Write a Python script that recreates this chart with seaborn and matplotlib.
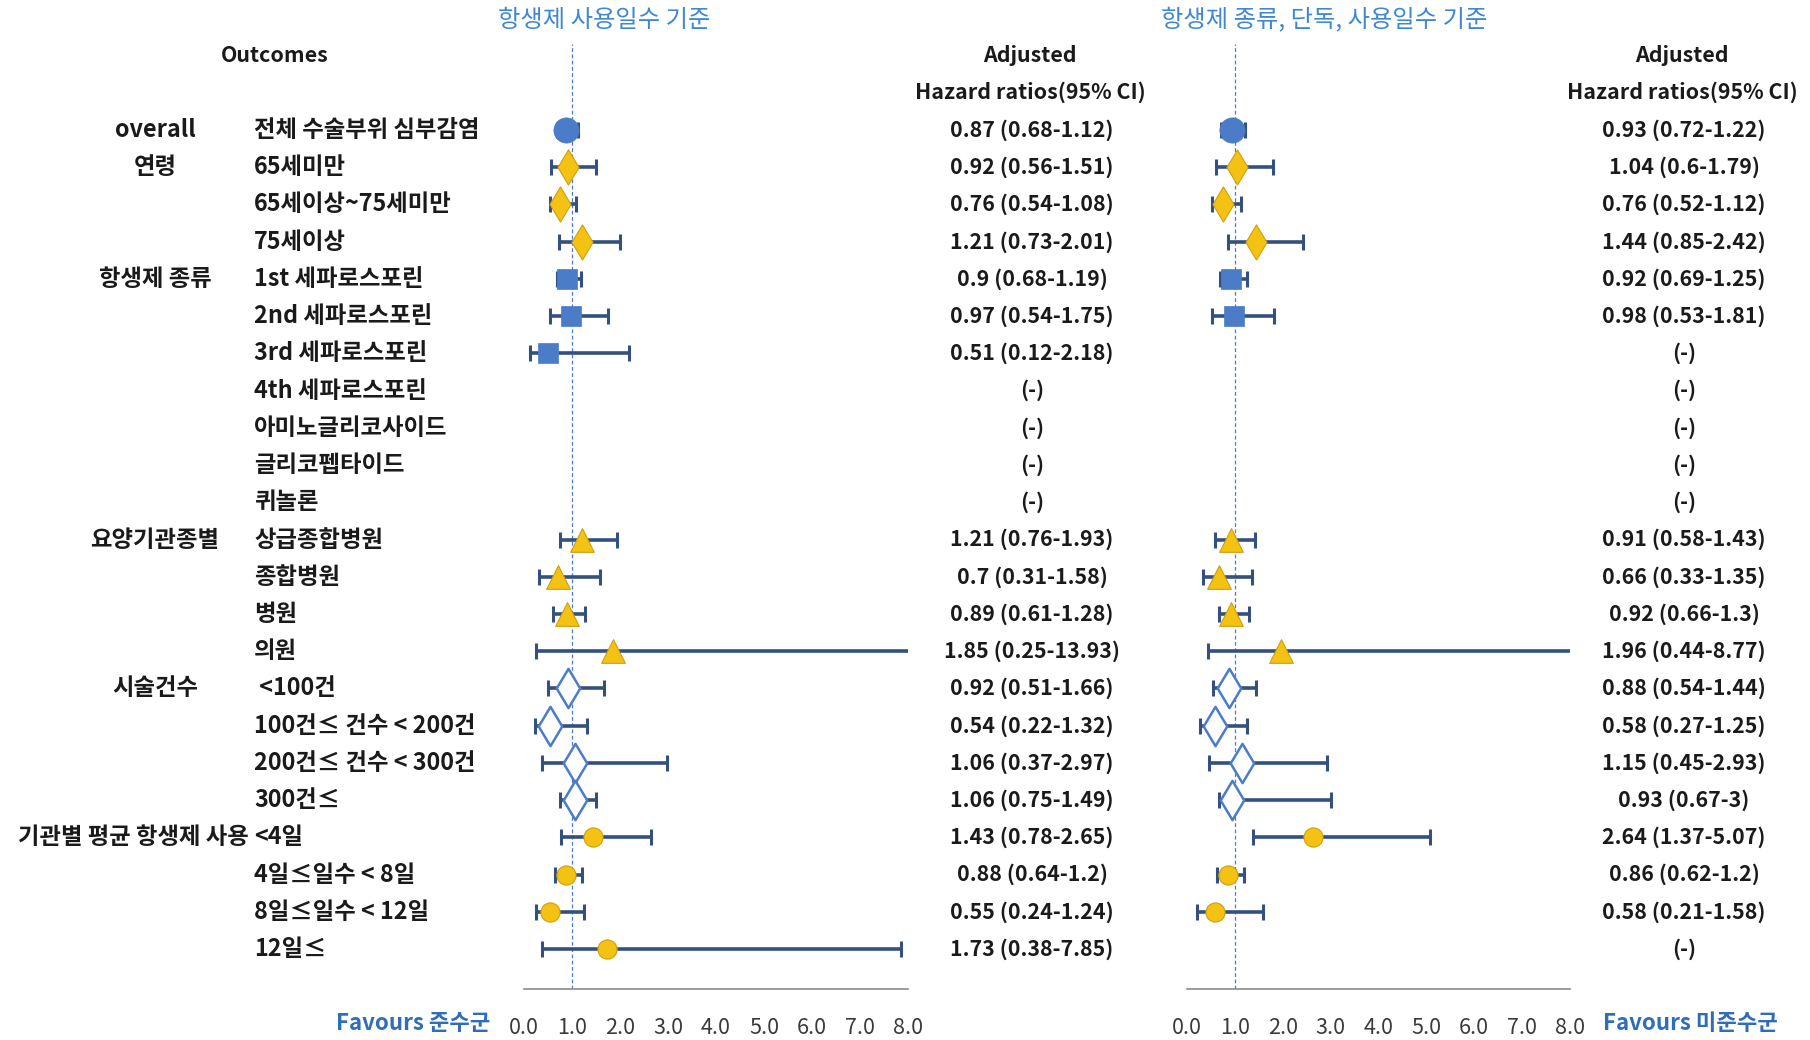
import numpy as np
import pandas as pd
import matplotlib
matplotlib.use("Agg")
import matplotlib.pyplot as plt
import seaborn as sns

sns.set_theme(style="white")
plt.rcParams['font.family'] = ['Noto Sans CJK KR', 'DejaVu Sans']

# ---------------- data ----------------
groups = ["overall", "연령", "", "", "항생제 종류", "", "", "", "", "", "",
          "요양기관종별", "", "", "", "시술건수", "", "", "",
          "기관별 평균 항생제 사용", "", "", ""]
outcomes = ["전체 수술부위 심부감염", "65세미만", "65세이상~75세미만", "75세이상",
            "1st 세파로스포린", "2nd 세파로스포린", "3rd 세파로스포린", "4th 세파로스포린",
            "아미노글리코사이드", "글리코펩타이드", "퀴놀론",
            "상급종합병원", "종합병원", "병원", "의원",
            " <100건", "100건≤ 건수 < 200건", "200건≤ 건수 < 300건", "300건≤",
            "<4일", "4일≤일수 < 8일", "8일≤일수 < 12일", "12일≤"]
kind = ["overall", "age", "age", "age", "abx", "abx", "abx", "abx", "abx", "abx", "abx",
        "inst", "inst", "inst", "inst", "vol", "vol", "vol", "vol",
        "days", "days", "days", "days"]

N = None
hr_L = [0.87, 0.92, 0.76, 1.21, 0.9, 0.97, 0.51, N, N, N, N,
        1.21, 0.7, 0.89, 1.85, 0.92, 0.54, 1.06, 1.06, 1.43, 0.88, 0.55, 1.73]
lo_L = [0.68, 0.56, 0.54, 0.73, 0.68, 0.54, 0.12, N, N, N, N,
        0.76, 0.31, 0.61, 0.25, 0.51, 0.22, 0.37, 0.75, 0.78, 0.64, 0.24, 0.38]
hi_L = [1.12, 1.51, 1.08, 2.01, 1.19, 1.75, 2.18, N, N, N, N,
        1.93, 1.58, 1.28, 13.93, 1.66, 1.32, 2.97, 1.49, 2.65, 1.2, 1.24, 7.85]

hr_R = [0.93, 1.04, 0.76, 1.44, 0.92, 0.98, N, N, N, N, N,
        0.91, 0.66, 0.92, 1.96, 0.88, 0.58, 1.15, 0.93, 2.64, 0.86, 0.58, N]
lo_R = [0.72, 0.6, 0.52, 0.85, 0.69, 0.53, N, N, N, N, N,
        0.58, 0.33, 0.66, 0.44, 0.54, 0.27, 0.45, 0.67, 1.37, 0.62, 0.21, N]
hi_R = [1.22, 1.79, 1.12, 2.42, 1.25, 1.81, N, N, N, N, N,
        1.43, 1.35, 1.3, 8.77, 1.44, 1.25, 2.93, 3, 5.07, 1.2, 1.58, N]

xticks = [0, 1, 2, 3, 4, 5, 6, 7, 8]
xticklabels = ["0.0", "1.0", "2.0", "3.0", "4.0", "5.0", "6.0", "7.0", "8.0"]

# ---------------- style ----------------
BLUE = "#4A7CC8"
GOLD = "#F4C213"
GOLD_EDGE = "#D09E0C"
CI = "#34507F"
TITLE_BLUE = "#3F88D0"
FAV_BLUE = "#2F6DB8"
TXT = "#1a1a1a"

styles = {
    "overall": dict(marker="o", s=330, color=BLUE, edgecolor=BLUE, linewidth=0.5),
    "age": dict(marker="d", s=320, color=GOLD, edgecolor=GOLD_EDGE, linewidth=0.8),
    "abx": dict(marker="s", s=200, color=BLUE, edgecolor=BLUE, linewidth=0.5),
    "inst": dict(marker="^", s=290, color=GOLD, edgecolor=GOLD_EDGE, linewidth=0.8),
    "vol": dict(marker="d", s=400, color="white", edgecolor=BLUE, linewidth=1.8),
    "days": dict(marker="o", s=190, color=GOLD, edgecolor=GOLD_EDGE, linewidth=0.8),
}

W, H = 1810, 1040
fig = plt.figure(figsize=(W / 100, H / 100), dpi=100)

row0, drow = 130.0, 37.23
ax_top, ax_bot = 44.0, 989.0
nrows = len(outcomes)
ylim = ((ax_bot - row0) / drow, (ax_top - row0) / drow)


def make_axes(x0, x1):
    ax = fig.add_axes([x0 / W, 1 - ax_bot / H, (x1 - x0) / W, (ax_bot - ax_top) / H])
    ax.set_xlim(0, 8)
    ax.set_ylim(*ylim)
    for sp in ["top", "left", "right"]:
        ax.spines[sp].set_visible(False)
    ax.spines["bottom"].set_color("#8a8a8a")
    ax.spines["bottom"].set_linewidth(1.2)
    ax.set_yticks([])
    ax.set_xticks(xticks)
    ax.set_xticklabels(xticklabels)
    ax.tick_params(axis="x", direction="out", length=6, width=1.2, color="#8a8a8a",
                   pad=14, labelsize=15.5, labelcolor="#3a3a3a")
    ax.axvline(1, color=BLUE, lw=0.9, ls=(0, (3, 2)), zorder=0)
    ax.patch.set_alpha(0)
    return ax


def draw_forest(ax, hr, lo, hi):
    df = pd.DataFrame({"row": np.arange(nrows), "kind": kind,
                       "hr": pd.array(hr, dtype="Float64").astype(float),
                       "lo": pd.array(lo, dtype="Float64").astype(float),
                       "hi": pd.array(hi, dtype="Float64").astype(float)})
    d = df.dropna()
    ax.errorbar(d["hr"], d["row"], xerr=[d["hr"] - d["lo"], d["hi"] - d["hr"]],
                fmt="none", ecolor=CI, elinewidth=2.6, capsize=6, capthick=2.2, zorder=2)
    for k, st in styles.items():
        sub = d[d["kind"] == k]
        if len(sub) == 0:
            continue
        sns.scatterplot(data=sub, x="hr", y="row", ax=ax, zorder=3, legend=False, **st)
    ax.set_xlabel("")
    ax.set_ylabel("")
    ax.set_xlim(0, 8)
    ax.set_ylim(*ylim)


axL = make_axes(524, 908)
draw_forest(axL, hr_L, lo_L, hi_L)
axR = make_axes(1187, 1570)
draw_forest(axR, hr_R, lo_R, hi_R)

# background axes for text in pixel coordinates
bg = fig.add_axes([0, 0, 1, 1], zorder=-1)
bg.set_xlim(0, W)
bg.set_ylim(H, 0)
bg.axis("off")

FS_K = 16.8
FS_N = 15.4
for i in range(nrows):
    y = row0 + drow * i
    if groups[i]:
        if i == 19:
            bg.text(249, y, groups[i], ha="right", va="center",
                    fontsize=FS_K, fontweight="bold", color=TXT)
        else:
            bg.text(155, y, groups[i], ha="center", va="center",
                    fontsize=FS_K, fontweight="bold", color=TXT)
    bg.text(254, y, outcomes[i], ha="left", va="center", fontsize=FS_K,
            fontweight="bold", color=TXT)


def fmt(h, l, u):
    if h is None:
        return "(-)"
    return f"{h} ({l}-{u})"


for i in range(nrows):
    y = row0 + drow * i
    bg.text(1032, y, fmt(hr_L[i], lo_L[i], hi_L[i]), ha="center", va="center",
            fontsize=FS_N, fontweight="bold", color=TXT)
    bg.text(1684, y, fmt(hr_R[i], lo_R[i], hi_R[i]), ha="center", va="center",
            fontsize=FS_N, fontweight="bold", color=TXT)

# headers
bg.text(275, 55, "Outcomes", ha="center", va="center", fontsize=FS_N, fontweight="bold", color=TXT)
for cx in (1030, 1682):
    bg.text(cx, 55, "Adjusted", ha="center", va="center", fontsize=FS_N, fontweight="bold", color=TXT)
    bg.text(cx, 92, "Hazard ratios(95% CI)", ha="center", va="center", fontsize=FS_N,
            fontweight="bold", color=TXT)

bg.text(604, 20, "항생제 사용일수 기준", ha="center", va="center", fontsize=17.5,
        fontweight="medium", color=TITLE_BLUE)
bg.text(1324, 20, "항생제 종류, 단독, 사용일수 기준", ha="center", va="center", fontsize=17.5,
        fontweight="medium", color=TITLE_BLUE)

bg.text(490, 1024, "Favours 준수군", ha="right", va="center", fontsize=16,
        fontweight="bold", color=FAV_BLUE)
bg.text(1603, 1024, "Favours 미준수군", ha="left", va="center", fontsize=16,
        fontweight="bold", color=FAV_BLUE)

fig.savefig("out.png", dpi=100)
